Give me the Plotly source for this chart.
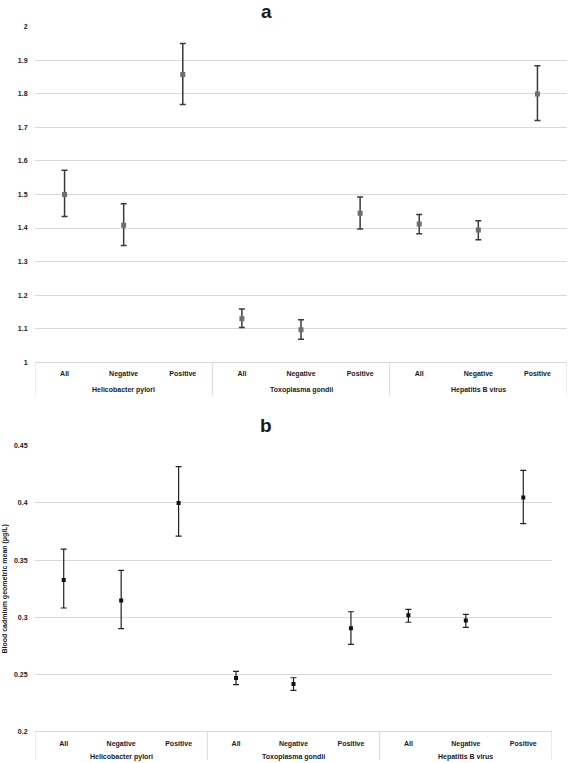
import plotly.graph_objects as go

# ---- data ----
categories = ["All", "Negative", "Positive"] * 3
groups = ["Helicobacter pylori", "Toxoplasma gondii", "Hepatitis B virus"]

# panel a
values_a = [1.500, 1.408, 1.857, 1.130, 1.097, 1.444, 1.412, 1.394, 1.799]
upper_a = [1.572, 1.472, 1.949, 1.159, 1.127, 1.492, 1.440, 1.422, 1.883]
lower_a = [1.434, 1.348, 1.768, 1.104, 1.069, 1.397, 1.383, 1.365, 1.720]
yticks_a = [1, 1.1, 1.2, 1.3, 1.4, 1.5, 1.6, 1.7, 1.8, 1.9, 2]
yticktext_a = ["1", "1.1", "1.2", "1.3", "1.4", "1.5", "1.6", "1.7", "1.8", "1.9", "2"]

# panel b
values_b = [0.3325, 0.3146, 0.400, 0.2466, 0.2414, 0.2903, 0.3016, 0.2970, 0.4049]
upper_b = [0.3595, 0.3410, 0.4318, 0.2524, 0.2469, 0.3047, 0.3068, 0.3024, 0.4286]
lower_b = [0.3080, 0.2900, 0.3710, 0.2408, 0.2359, 0.2761, 0.2955, 0.2911, 0.3820]
yticks_b = [0.2, 0.25, 0.3, 0.35, 0.4, 0.45]
yticktext_b = ["0.2", "0.25", "0.3", "0.35", "0.4", "0.45"]

y_title_b = "Blood cadmium geometric mean (μg/L)"

W, H = 568, 763
xs = list(range(len(categories)))

def px_x(p):
    return p / W

def px_y(p):
    return 1 - p / H

TEXT = "#1a1a1a"
GRID = "#d9d9d9"
FONT = "Liberation Sans"

fig = go.Figure()

fig.add_trace(go.Scatter(
    x=xs, y=values_a, mode="markers", xaxis="x", yaxis="y",
    marker=dict(symbol="square", size=5, color="#6e6e6e"),
    error_y=dict(type="data", symmetric=False,
                 array=[u - v for u, v in zip(upper_a, values_a)],
                 arrayminus=[v - l for v, l in zip(values_a, lower_a)],
                 color="#3a3a3a", thickness=1.5, width=3),
    showlegend=False, hoverinfo="skip"))

fig.add_trace(go.Scatter(
    x=xs, y=values_b, mode="markers", xaxis="x2", yaxis="y2",
    marker=dict(symbol="square", size=4, color="#111111"),
    error_y=dict(type="data", symmetric=False,
                 array=[u - v for u, v in zip(upper_b, values_b)],
                 arrayminus=[v - l for v, l in zip(values_b, lower_b)],
                 color="#222222", thickness=1.2, width=3),
    showlegend=False, hoverinfo="skip"))

tickfont = dict(family=FONT, size=7, color=TEXT, weight="bold")

top_a, bot_a = 22.7, 361.7
top_b, bot_b = 446, 734

fig.update_layout(
    width=W, height=H,
    margin=dict(l=0, r=0, t=0, b=0),
    paper_bgcolor="white", plot_bgcolor="white",
    xaxis=dict(domain=[px_x(35), px_x(567)], range=[-0.5, 8.5],
               tickvals=xs, ticktext=categories, tickfont=tickfont,
               showgrid=False, zeroline=False, showline=True, linecolor=GRID,
               linewidth=1, ticks="outside", ticklen=4, tickcolor="rgba(0,0,0,0)",
               anchor="y"),
    yaxis=dict(domain=[px_y(bot_a), px_y(top_a)], range=[1, 2],
               tickvals=yticks_a, ticktext=yticktext_a, tickfont=tickfont,
               showgrid=True, gridcolor=GRID, gridwidth=1.2, zeroline=False,
               showline=False, ticks="outside", ticklen=5, tickcolor="rgba(0,0,0,0)",
               anchor="x"),
    xaxis2=dict(domain=[px_x(35), px_x(552)], range=[-0.5, 8.5],
                tickvals=xs, ticktext=categories, tickfont=tickfont,
                showgrid=False, zeroline=False, showline=True, linecolor=GRID,
                linewidth=1, ticks="outside", ticklen=5, tickcolor="rgba(0,0,0,0)",
                anchor="y2"),
    yaxis2=dict(domain=[px_y(bot_b), px_y(top_b)], range=[0.2, 0.45],
                tickvals=yticks_b, ticktext=yticktext_b, tickfont=tickfont,
                showgrid=True, gridcolor=GRID, gridwidth=1.2, zeroline=False,
                showline=False, ticks="outside", ticklen=5, tickcolor="rgba(0,0,0,0)",
                anchor="x2"),
)

annotations = []
shapes = []
groupfont = dict(family=FONT, size=7, color=TEXT, weight="bold")
for gi, g in enumerate(groups):
    center = gi * 3 + 1
    annotations.append(dict(x=center, xref="x", y=px_y(389.5), yref="paper",
                            text=g, showarrow=False, font=groupfont,
                            xanchor="center", yanchor="middle"))
    annotations.append(dict(x=center, xref="x2", y=px_y(759.5), yref="paper",
                            text=g, showarrow=False, font=groupfont,
                            xanchor="center", yanchor="middle"))
for b in [-0.5, 2.5, 5.5, 8.5]:
    shapes.append(dict(type="line", xref="x", x0=b, x1=b, yref="paper",
                       y0=px_y(bot_a), y1=px_y(395), line=dict(color=GRID, width=1)))
    shapes.append(dict(type="line", xref="x2", x0=b, x1=b, yref="paper",
                       y0=px_y(bot_b), y1=px_y(763), line=dict(color=GRID, width=1)))

annotations.append(dict(x=px_x(266), xref="paper", y=px_y(8), yref="paper",
                        text="<b>a</b>", showarrow=False,
                        font=dict(family=FONT, size=19, color=TEXT),
                        xanchor="center", yanchor="middle"))
annotations.append(dict(x=px_x(266), xref="paper", y=px_y(425), yref="paper",
                        text="<b>b</b>", showarrow=False,
                        font=dict(family=FONT, size=19, color=TEXT),
                        xanchor="center", yanchor="middle"))
annotations.append(dict(x=px_x(5), xref="paper", y=px_y(590), yref="paper",
                        text=y_title_b, showarrow=False, textangle=-90,
                        font=dict(family=FONT, size=7, color=TEXT, weight="bold"),
                        xanchor="center", yanchor="middle"))

fig.update_layout(annotations=annotations, shapes=shapes)

fig.write_html("out.html", config={"displayModeBar": False},
               post_script="document.body.style.margin='0';document.body.style.overflow='hidden';")
